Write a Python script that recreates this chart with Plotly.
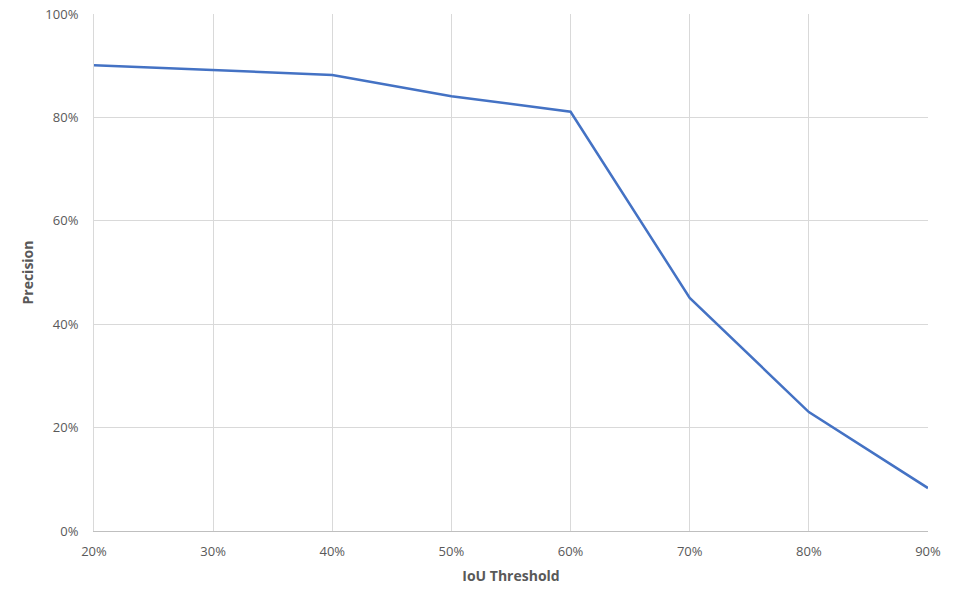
import plotly.graph_objects as go

iou_threshold = [0.2, 0.3, 0.4, 0.5, 0.6, 0.7, 0.8, 0.9]
precision = [0.901, 0.892, 0.882, 0.841, 0.811, 0.451, 0.230, 0.083]

fig = go.Figure(
    go.Scatter(
        x=iou_threshold,
        y=precision,
        mode="lines",
        line={"color": "#4472C4", "width": 2.5},
        showlegend=False,
    )
)

fig.update_layout(
    width=955,
    height=605,
    paper_bgcolor="white",
    plot_bgcolor="white",
    margin={"l": 94, "r": 27, "t": 14, "b": 74},
    font={"family": "Open Sans", "size": 13, "color": "#595959"},
    xaxis={
        "range": [0.2, 0.9],
        "tickvals": iou_threshold,
        "tickformat": ".0%",
        "showgrid": True,
        "gridcolor": "#D9D9D9",
        "showline": True,
        "linecolor": "#BFBFBF",
        "zeroline": False,
        "ticks": "",
        "ticklabelstandoff": 8,
        "automargin": False,
        "title": {"text": "<b>IoU Threshold</b>", "font": {"size": 14}, "standoff": 12},
    },
    yaxis={
        "range": [0, 1],
        "dtick": 0.2,
        "tickformat": ".0%",
        "showgrid": True,
        "gridcolor": "#D9D9D9",
        "showline": True,
        "linecolor": "#D9D9D9",
        "zeroline": False,
        "ticks": "",
        "ticklabelstandoff": 12,
        "automargin": False,
        "title": {"text": "<b>Precision</b>", "font": {"size": 14}, "standoff": 8},
    },
)

# drop the page's default body margin so the figure sits at the top-left corner
fig.write_html(
    "out.html",
    config={"displayModeBar": False},
    post_script="document.body.style.margin = '0';",
)
